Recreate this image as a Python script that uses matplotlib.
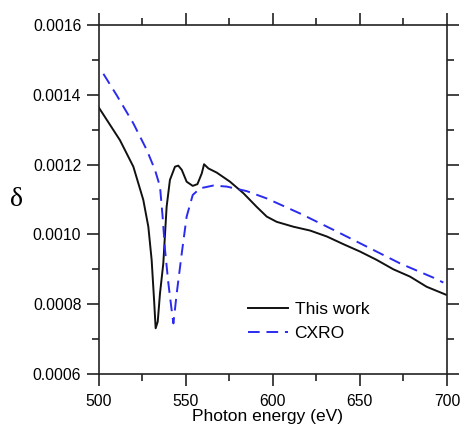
import matplotlib
matplotlib.use("Agg")
import matplotlib.pyplot as plt
from matplotlib.ticker import MultipleLocator, FormatStrFormatter

plt.rcParams['font.family'] = ['Liberation Sans', 'DejaVu Sans']

# This work
this_E = [500, 512.2, 519.9, 525.6, 528.5, 530.4, 531.8, 532.7, 533.9, 535.2, 537.1,
          539.0, 540.9, 543.8, 545.7, 547.7, 550.5, 554.0, 556.7, 559.2, 560.5, 563.0,
          567.8, 575.4, 583.1, 590.7, 596.5, 602.2, 611.8, 621.4, 631.0, 640.5, 650.0,
          659.6, 669.2, 678.8, 688.3, 700]
this_d = [0.001364, 0.001270, 0.001194, 0.001099, 0.001022, 0.000927, 0.000812, 0.000731,
          0.000750, 0.000831, 0.000917, 0.001079, 0.001156, 0.001194, 0.001197, 0.001185,
          0.001151, 0.001139, 0.001144, 0.001175, 0.001201, 0.001189, 0.001177, 0.001151,
          0.001118, 0.001079, 0.001051, 0.001036, 0.001022, 0.001011, 0.000994, 0.000972,
          0.000951, 0.000927, 0.000900, 0.000879, 0.000850, 0.000826]

# CXRO
cxro_E = [502.7, 510.3, 519.9, 527.6, 532.3, 535.2, 536.7, 538.1, 540.0, 541.9, 542.9,
          544.8, 547.7, 550.5, 554.0, 558.2, 565.8, 573.5, 585.0, 596.5, 615.6, 634.8,
          653.9, 673.0, 692.2, 697.9]
cxro_d = [0.001460, 0.001399, 0.001318, 0.001242, 0.001185, 0.001137, 0.001051, 0.000955,
          0.000860, 0.000783, 0.000745, 0.000831, 0.000946, 0.001051, 0.001113, 0.001132,
          0.001140, 0.001137, 0.001124, 0.001103, 0.001060, 0.001013, 0.000965, 0.000917,
          0.000876, 0.000862]

labels = ["This work", "CXRO"]

fig = plt.figure(figsize=(4.61, 4.25), dpi=100)
ax = fig.add_axes([0.2141, 0.12, 0.9696 - 0.2141, 0.9412 - 0.12])

ax.plot(this_E, this_d, color='#111111', lw=1.4, label=labels[0])
ax.plot(cxro_E, cxro_d, color='#2b2bf0', lw=1.4, dashes=(6, 3.5), label=labels[1])

ax.set_xlim(500, 700)
ax.set_ylim(0.0006, 0.0016)
ax.xaxis.set_major_locator(MultipleLocator(50))
ax.xaxis.set_minor_locator(MultipleLocator(25))
ax.yaxis.set_major_locator(MultipleLocator(0.0002))
ax.yaxis.set_minor_locator(MultipleLocator(0.0001))
ax.yaxis.set_major_formatter(FormatStrFormatter('%.4f'))

for s in ax.spines.values():
    s.set_linewidth(1.2)
    s.set_color('#222222')
ax.tick_params(which='both', direction='out', top=True, right=True,
               labeltop=False, labelright=False, color='#222222', width=1.2)
ax.tick_params(which='major', length=8.5, labelsize=11.3, pad=4)
ax.tick_params(which='minor', length=5)
ax.tick_params(axis='x', which='major', pad=6)

leg = ax.legend(loc='upper left', bbox_to_anchor=(0.408, 0.226), borderaxespad=0,
                frameon=False, fontsize=12.5, handlelength=2.3, handletextpad=0.4,
                labelspacing=0.5)

fig.text(16 / 461, 1 - 200 / 425, 'δ', family=['Liberation Serif', 'DejaVu Serif'],
         fontsize=20, ha='center', va='center')
fig.text(267 / 461, 1 / 425, 'Photon energy (eV)', fontsize=12.5,
         ha='center', va='bottom')

fig.savefig('out.png', dpi=100)
